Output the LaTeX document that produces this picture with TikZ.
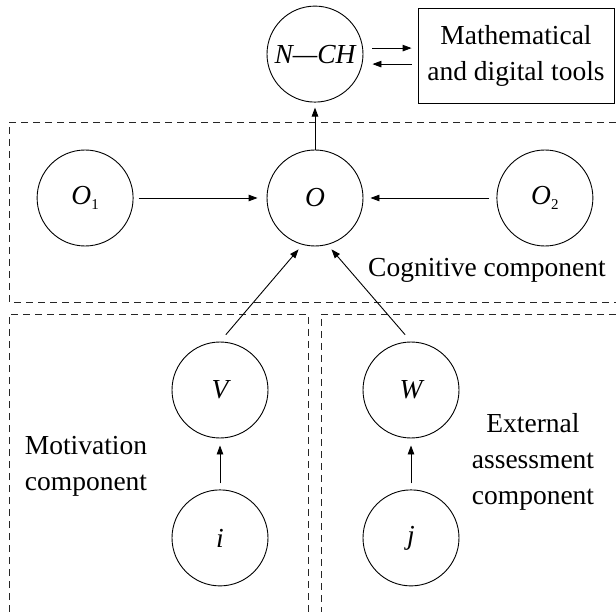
\documentclass[tikz,border=0pt]{standalone}
\usepackage{fontspec}
\setmainfont{Liberation Serif}
\usetikzlibrary{positioning,arrows.meta}
\newcommand{\lowidx}[1]{\raisebox{-5pt}{\upshape\fontsize{15}{15}\selectfont#1}}

\begin{document}
\begin{tikzpicture}[x=1pt,y=-1pt,
  c/.style={draw,circle,line width=0.9pt,minimum size=96pt,inner sep=0pt,font=\fontsize{27.5}{30}\selectfont\itshape},
  a/.style={-{Triangle[length=9pt,width=6.5pt]},line width=0.9pt},
  d/.style={dash pattern=on 7pt off 5pt,line width=0.9pt,black!85},
  t/.style={align=center,font=\fontsize{27.5}{36}\selectfont}]
  \useasboundingbox (0,0) rectangle (616,612);
  % cognitive part
  \node[c] (o) at (315,198) {O};
  \node[c,left=133pt of o] (o1) {O\lowidx{1}};
  \node[c,right=133pt of o] (o2) {O\lowidx{2}};
  \node[c,above=47pt of o] (nch) {N—CH};
  \node[draw,line width=0.9pt,minimum width=196pt,minimum height=95pt,t] (tools) at (516,55.5) {Mathematical\\and digital tools};
  \node[t] (cog) at (487,270) {Cognitive component};
  % motivation and assessment
  \node[c] (v) at (220,390) {V};
  \node[c,below=51pt of v] (i) {i};
  \node[c] (w) at (411,390) {W};
  \node[c,below=51pt of w] (j) {j};
  \node[t] (mot) at (86,466) {Motivation\\component};
  \node[t] (ext) at (533,462) {External\\assessment\\component};
  % dashed frames
  \draw[d] (616,122) -- (9,122) -- (9,302) -- (616,302);
  \draw[d] (9,612) -- (9,314) -- (308,314) -- (308,612);
  \draw[d] (616,314) -- (321,314) -- (321,612);
  % arrows
  \draw[a,shorten >=5pt] (o) -- (nch);
  \draw[a,shorten <=9pt,shorten >=6pt] ([yshift=6pt]nch.east) -- ([yshift=6pt]nch.east -| tools.west);
  \draw[a,shorten <=6pt,shorten >=9pt] ([yshift=-10pt]nch.east -| tools.west) -- ([yshift=-10pt]nch.east);
  \draw[a,shorten <=5pt,shorten >=9pt] (o1) -- (o);
  \draw[a,shorten <=7pt,shorten >=7pt] (o2) -- (o);
  \draw[a,shorten <=9pt,shorten >=6pt] (v.north) -- (o.255);
  \draw[a,shorten <=9pt,shorten >=6pt] (w.north) -- (o.285);
  \draw[a,shorten <=6pt,shorten >=7pt] (i) -- (v);
  \draw[a,shorten <=6pt,shorten >=7pt] (j) -- (w);
\end{tikzpicture}
\end{document}
